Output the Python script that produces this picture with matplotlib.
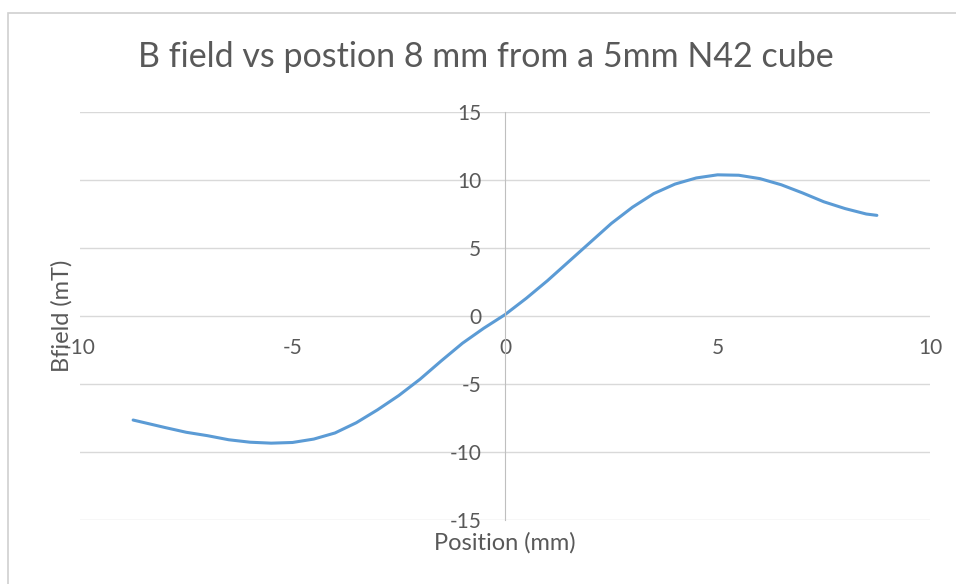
import matplotlib.pyplot as plt
from matplotlib.patches import Rectangle

# position (mm) and field (mT)
position = [-8.75, -8.0, -7.5, -7.0, -6.5, -6.0, -5.5, -5.0, -4.5, -4.0, -3.5,
            -3.0, -2.5, -2.0, -1.5, -1.0, -0.5, 0.0, 0.5, 1.0, 1.5, 2.0, 2.5,
            3.0, 3.5, 4.0, 4.5, 5.0, 5.5, 6.0, 6.5, 7.0, 7.5, 8.0, 8.5, 8.75]
bfield = [-7.65, -8.2, -8.55, -8.8, -9.1, -9.28, -9.35, -9.3, -9.05, -8.6, -7.85,
          -6.9, -5.85, -4.65, -3.3, -2.0, -0.9, 0.1, 1.3, 2.6, 4.0, 5.4, 6.8,
          8.0, 9.0, 9.7, 10.15, 10.38, 10.35, 10.1, 9.65, 9.05, 8.4, 7.9, 7.5, 7.4]

xticks = [-10, -5, 0, 5, 10]
yticks = [-15, -10, -5, 0, 5, 10, 15]

plt.rcParams['font.family'] = ['Lato', 'DejaVu Sans']
plt.rcParams['axes.unicode_minus'] = False
grey = '#595959'

fig = plt.figure(figsize=(9.56, 5.84), dpi=100)
fig.patches.append(Rectangle((8 / 956, -0.1), 1.1, 1.1 - 13 / 584, transform=fig.transFigure,
                             fill=False, edgecolor='#d0d0d0', lw=1.2))

ax = fig.add_axes([80 / 956, 1 - 520 / 584, 850 / 956, 408 / 584])
ax.plot(position, bfield, color='#5B9BD5', lw=2.2, solid_capstyle='round',
        solid_joinstyle='round')

ax.set_xlim(-10, 10)
ax.set_ylim(-15, 15)
ax.set_xticks(xticks)
ax.set_yticks(yticks)
ax.grid(axis='y', color='#d9d9d9', lw=1)
ax.set_axisbelow(True)

ax.spines['left'].set_position(('data', 0))
ax.spines['bottom'].set_position(('data', 0))
ax.spines['left'].set_color('#bfbfbf')
ax.spines['bottom'].set_visible(False)
ax.spines['top'].set_visible(False)
ax.spines['right'].set_visible(False)
ax.tick_params(axis='x', length=0, pad=16, labelsize=15, labelcolor=grey)
ax.tick_params(axis='y', length=0, pad=17, labelsize=15, labelcolor=grey)

ax.text(0.5, -0.055, 'Position (mm)', transform=ax.transAxes, ha='center',
        va='center', fontsize=17, color=grey)
ax.text(-0.021, 0.5, 'Bfield (mT)', transform=ax.transAxes, ha='center',
        va='center', rotation=90, fontsize=17, color=grey)

fig.text(0.508, 1 - 57 / 584, 'B field vs postion 8 mm from a 5mm N42 cube',
         ha='center', va='center', fontsize=24.5, color=grey)

fig.savefig('out.png', dpi=100)
